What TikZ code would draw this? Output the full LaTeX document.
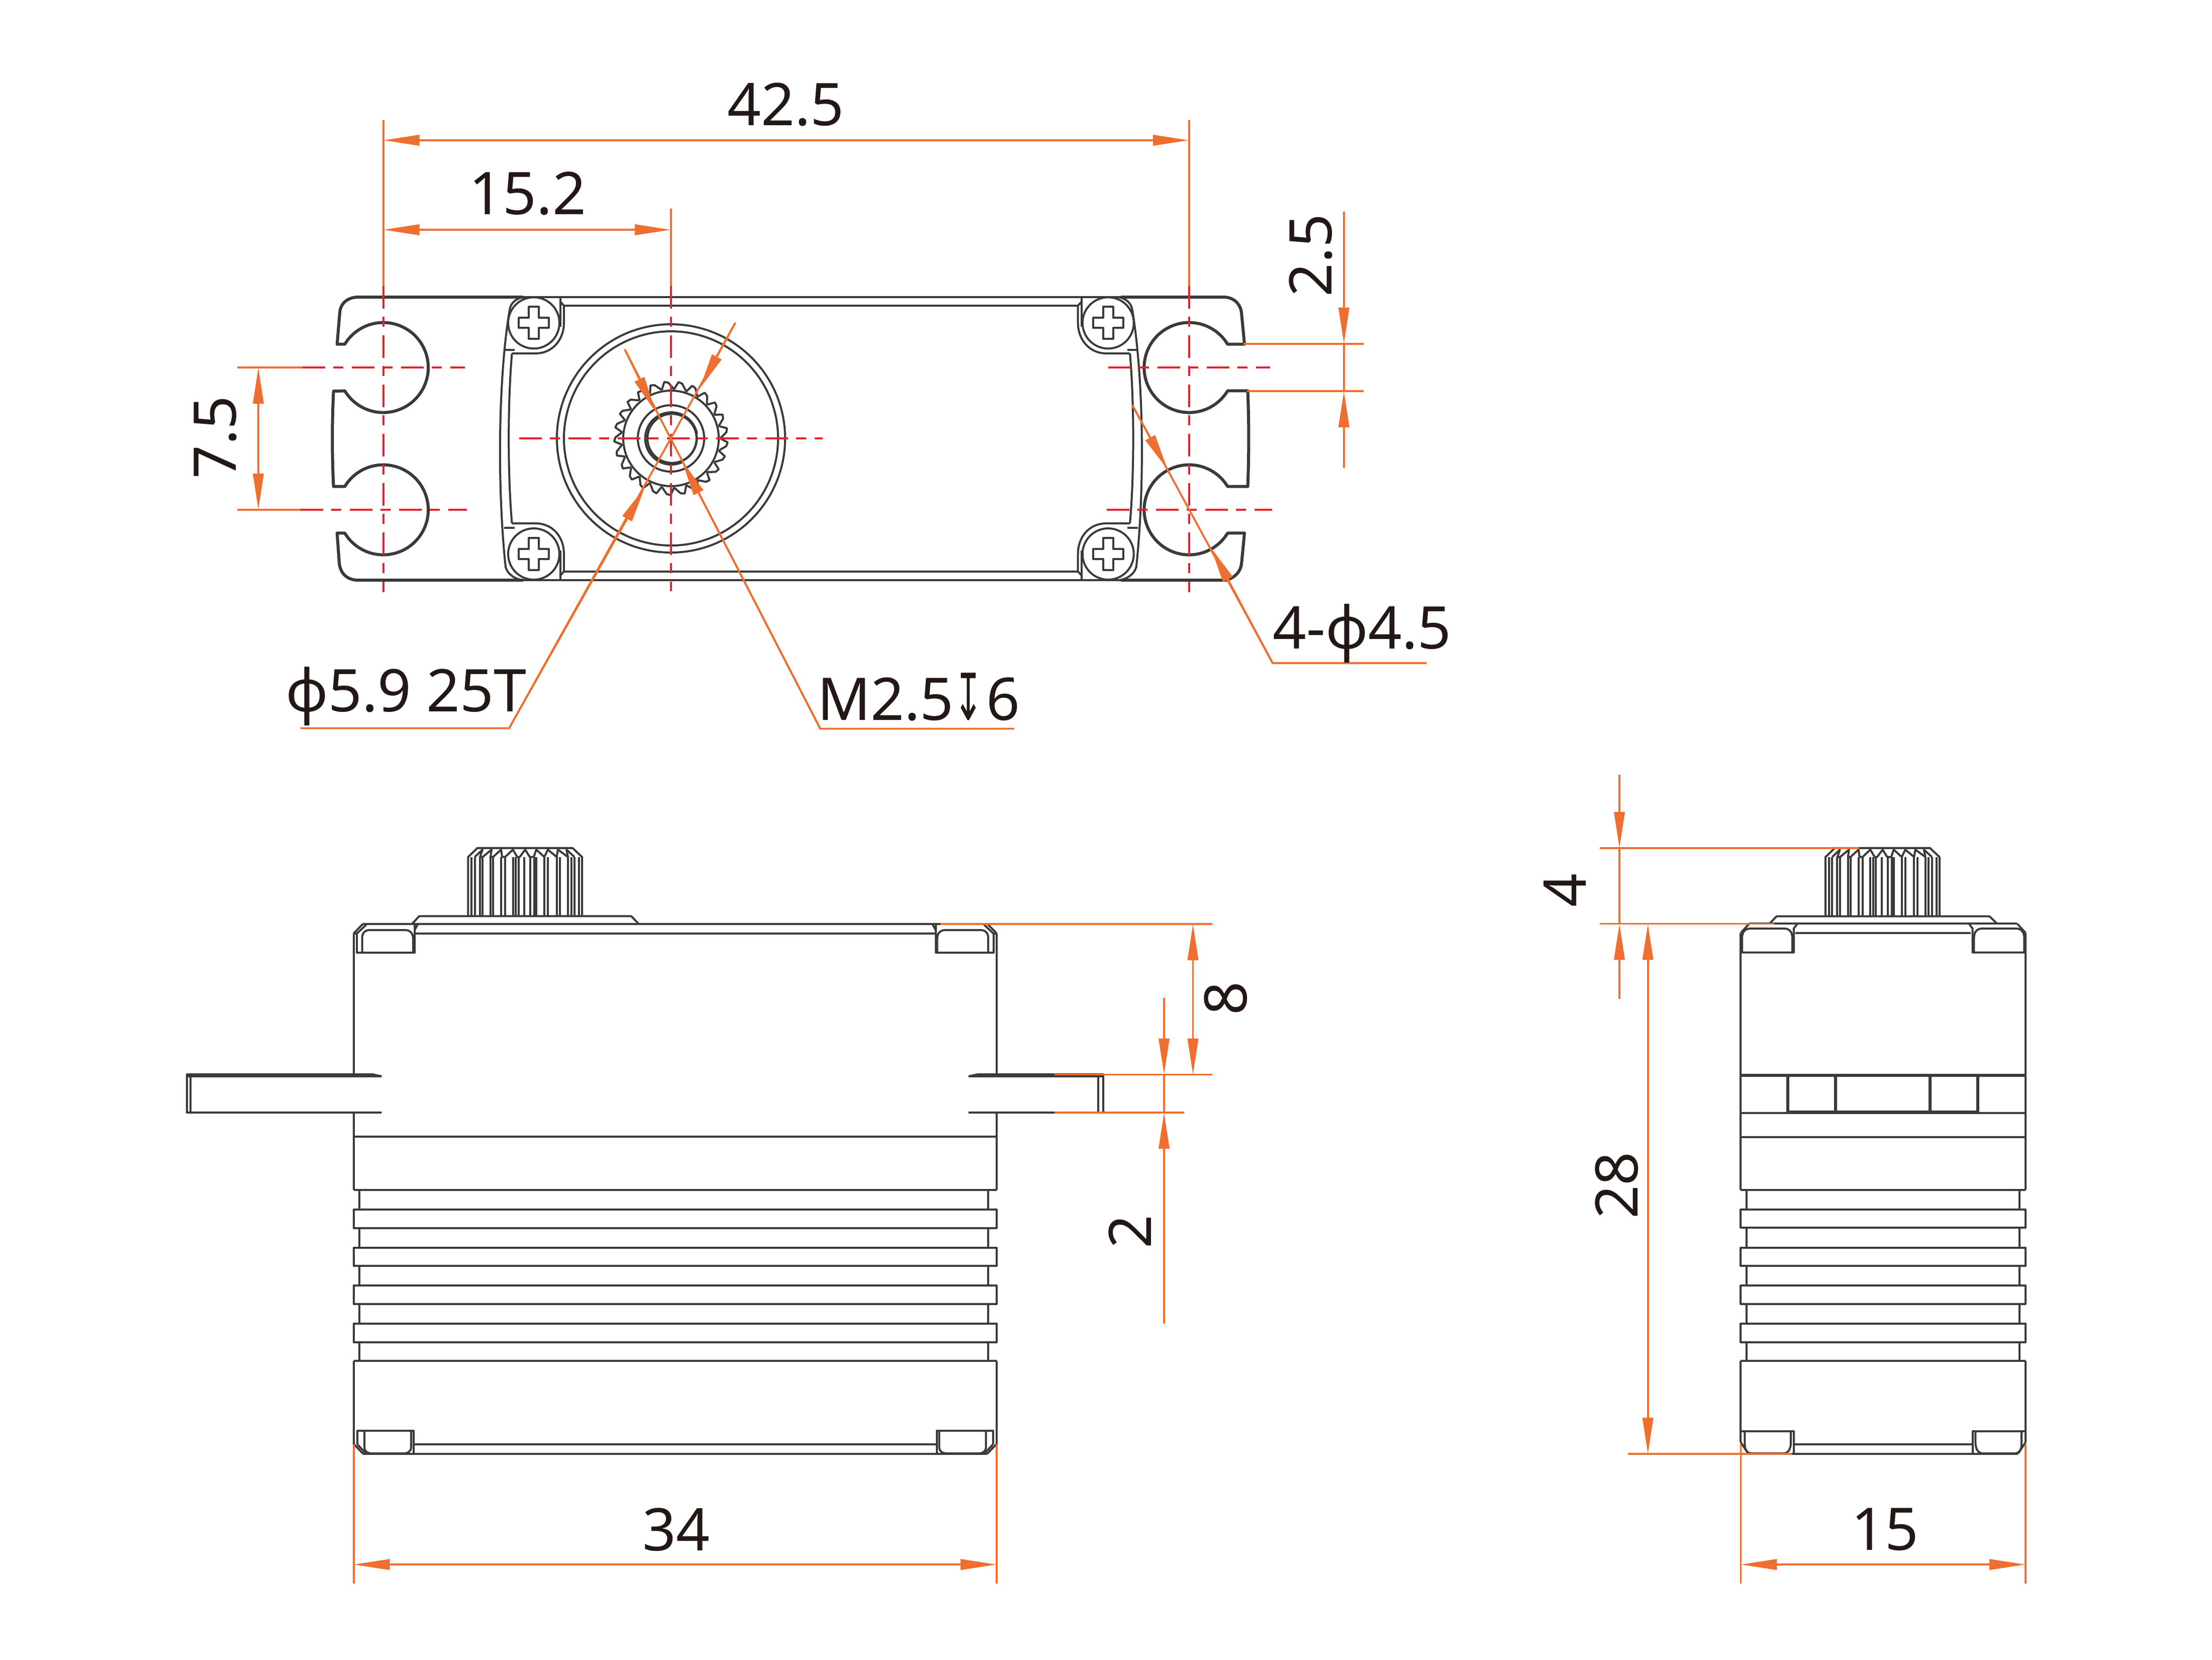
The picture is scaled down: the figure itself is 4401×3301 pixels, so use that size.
\documentclass[tikz,border=0pt]{standalone}
\usepackage{fontspec}
\setmainfont{Noto Sans}
\newfontfamily\symfont{DejaVu Sans}
\usetikzlibrary{arrows.meta}

\definecolor{partcol}{HTML}{3A3A3A}
\definecolor{dimcol}{HTML}{EE6F30}
\definecolor{axiscol}{HTML}{E6212A}
\definecolor{labelcol}{HTML}{231815}

\tikzset{
    dimtip/.tip={Triangle[length=7.2pt,width=2.1pt]},
    spline/.pic={
        \draw[part] (931.3,1822.4) -- (931.3,1704.6) -- (950,1686.7) -- (1139,1686.7) -- (1158,1704.6) -- (1158,1822.4);
        \foreach \x in {938,944.6,954.5,960.3,975.9,981,997,1005,1020.5,1026,1031.7,1043,1055,1063,1067,1083,1090,1107.6,1114,1130,1136.6,1143,1152}
            \draw[part] (\x,1704.6) -- (\x,1822.4);
        \draw[part] (944.6,1704.6) -- (960,1690) -- (955,1704.6) -- (960.3,1704.6) -- (978,1690) -- (976,1704.6) -- (981,1704.6) -- (997,1690) -- (999,1704.6) -- (1005,1704.6) -- (1020.5,1690) -- (1029,1704.6) -- (1034,1704.6) -- (1045,1690) -- (1054,1704.6) -- (1062,1704.6) -- (1067,1690) -- (1083,1704.6) -- (1090,1690) -- (1107.6,1704.6) -- (1110,1690) -- (1130,1704.6) -- (1127,1690) -- (1143,1704.6);
    },
    screw/.pic={
        \draw[part] (0,0) circle (51);
        \draw[part] (-30,-10) -- (-10,-10) -- (-10,-32) -- (10,-32) -- (10,-10) -- (30,-10) -- (30,10) -- (10,10) -- (10,32) -- (-10,32) -- (-10,10) -- (-30,10) -- cycle;
    },
    bracket/.pic={
        \draw[part] (1041,591) .. controls (1026,594) and (1016,603) .. (1014,616) .. controls (990,760) and (990,980) .. (1006,1128) .. controls (1010,1142) and (1024,1152) .. (1041,1154);
        \draw[part] (1018.6,703) .. controls (1010,800) and (1010,945) .. (1018.6,1041);
        \draw[part] (1002.5,696.4) -- (1024,696.4);
        \draw[part] (1002.5,1050) -- (1024,1050);
        \draw[part] (1018.6,703) -- (1065,703) .. controls (1100,703) and (1122,675) .. (1122,642) -- (1122,608) -- (1114.7,600);
        \draw[part] (1018.6,1041) -- (1065,1041) .. controls (1100,1041) and (1122,1068) .. (1122,1102) -- (1122,1136.7) -- (1114.7,1145);
        \draw[part] (1114.7,591) -- (1114.7,650);
        \draw[part] (1114.7,1095) -- (1114.7,1154);
        \pic at (1062,642.3) {screw};
        \pic at (1062,1102) {screw};
    },
    frontend/.pic={
        % cap
        \draw[part] (703.6,1856.6) -- (722,1837.8);
        \draw[part] (703.6,1856.6) -- (710,1857) -- (729,1839);
        \draw[part] (710,1857) -- (710,1895) -- (825,1895) -- (825,1838);
        \draw[part] (720.5,1895) -- (720.5,1866) .. controls (720.5,1856) and (726,1850) .. (735,1850) -- (806,1850) .. controls (816,1850) and (822,1857) .. (822,1867) -- (822,1895);
        \draw[part] (825,1850) -- (831,1839);
        % foot
        \draw[part] (711,2873) -- (711,2846) -- (823,2846) -- (823,2891.7);
        \draw[part] (704.6,2873) -- (722.4,2891.7);
        \draw[part] (711,2873) -- (727,2890);
        \draw[part] (725,2846) -- (725,2880) .. controls (725,2887) and (732,2891) .. (740,2891) -- (801.5,2891) .. controls (812,2891) and (818,2887) .. (818,2878) -- (818,2846);
    },
    sideend/.pic={
        % cap
        \draw[part] (3463.4,1855.6) -- (3480,1837.4);
        \draw[part] (3463.4,1894.6) -- (3568.8,1894.6) -- (3568.8,1847) -- (3576,1837.4);
        \draw[part] (3466,1894.6) -- (3466,1865.6) .. controls (3466,1854) and (3472,1847) .. (3482,1847) -- (3550,1847) .. controls (3560,1847) and (3566,1854) .. (3566,1865.6) -- (3566,1894.6);
        % foot
        \draw[part] (3463.4,2869) -- (3478,2891);
        \draw[part] (3463.4,2846.6) -- (3568.8,2846.6) -- (3568.8,2892);
        \draw[part] (3471.4,2846.6) -- (3471.4,2873) .. controls (3471.4,2884) and (3476,2891) .. (3486,2891) -- (3548,2891) .. controls (3558,2891) and (3563,2882) .. (3563,2869) -- (3563,2846.6);
    }
}

\begin{document}
\begin{tikzpicture}[
    x=0.1pt, y=-0.1pt,
    part/.style={draw=partcol, line width=0.4pt, line join=round},
    tab/.style={draw=partcol, line width=0.6pt, line join=round},
    dim/.style={draw=dimcol, line width=0.38pt},
    axis/.style={draw=axiscol, line width=0.42pt, dash pattern=on 4.5pt off 1.6pt on 2pt off 1.7pt},
    size/.style={text=labelcol, inner sep=0pt, font=\fontsize{11.7}{14}\selectfont}
]
    \useasboundingbox (0,0) rectangle (4401,3301);

    % Top view: mounting tabs
    \draw[tab] (1041,591) -- (712.7,591) .. controls (690,591) and (677,605) .. (676,622) -- (670.7,684.7) -- (686,684.7)
        arc[start angle=211.2, end angle=508.8, radius=89.5] -- (663.6,778) .. controls (660.5,840) and (660.5,905) .. (663.6,967.7) -- (686,967.7)
        arc[start angle=211.2, end angle=508.8, radius=89.5] -- (670.7,1060.3) -- (675,1120) .. controls (677,1140) and (690,1154) .. (712.7,1154) -- (1041,1154);
    \draw[tab] (2230,591) -- (2434.7,591) .. controls (2455,591) and (2468,605) .. (2470,622) -- (2476,684.7) -- (2442.4,684.7)
        arc[start angle=-31.2, end angle=-328.8, radius=89.5] -- (2482.5,777.3) .. controls (2485,840) and (2485,905) .. (2482.5,967.7) -- (2442.4,967.7)
        arc[start angle=-31.2, end angle=-328.8, radius=89.5] -- (2476,1060.3) -- (2470,1122) .. controls (2467,1140) and (2455,1150) .. (2438,1154) -- (2230,1154);

    % Top view: case and screws
    \draw[part] (1041,591) -- (2230,591);
    \draw[part] (1041,1154) -- (2230,1154);
    \draw[part] (1122,608) -- (2144.7,608);
    \draw[part] (1122,1136.7) -- (2144.7,1136.7);
    \pic at (0,0) {bracket};
    \pic[xscale=-1] at (3266.7,0) {bracket};

    % Top view: output shaft
    \draw[part] (1335,872) circle (227);
    \draw[part] (1335,872) circle (213);
    \draw[part] (1335,872) circle (95);
    \draw[part] (1335,872) circle (66);
    \draw[part, line width=0.45pt] (1337,872) circle (49);
    \draw[part] (1360,918) arc[start angle=62, end angle=350, radius=52];
    \foreach \a in {0,14.4,...,345.6}
        \draw[part] ([shift={(1335,872)}]\a:98) -- ([shift={(1335,872)}]\a+4:113) -- ([shift={(1335,872)}]\a+8:111) -- ([shift={(1335,872)}]\a+14.4:98);

    % Centre lines
    \draw[axis] (762.6,569) -- (762.6,1178);
    \draw[axis] (2365.8,569) -- (2365.8,1178);
    \draw[axis] (1335,569) -- (1335,1176);
    \draw[axis] (602,731) -- (925,731);
    \draw[axis] (598,1014) -- (929,1014);
    \draw[axis] (2205,731) -- (2527,731);
    \draw[axis] (2202,1014) -- (2531,1014);
    \draw[axis] (1032.6,872) -- (1637,872);

    % Front view
    \pic at (0,0) {spline};
    \pic at (0,0) {frontend};
    \pic[xscale=-1] at (2686.6,0) {frontend};
    \draw[part] (819.6,1838) -- (834,1822.4) -- (1256,1822.4) -- (1271,1838);
    \draw[part] (722,1837.8) -- (1964.6,1837.8);
    \draw[part] (825,1856.6) -- (1861.6,1856.6);
    \draw[part] (703.6,1856.6) -- (703.6,2137);
    \draw[part] (703.6,2213) -- (703.6,2366.8);
    \draw[part] (703.6,2707) -- (703.6,2873);
    \draw[part] (1983,1856.6) -- (1983,2137);
    \draw[part] (1983,2213) -- (1983,2366.8);
    \draw[part] (1983,2707) -- (1983,2873);
    \draw[part] (714.7,2366.8) -- (714.7,2707);
    \draw[part] (1966,2366.8) -- (1966,2707);
    \foreach \y in {2260.7,2366.8,2707}
        \draw[part] (703.6,\y) -- (1983,\y);
    \foreach \y/\z in {2406/2443,2481.7/2518,2557/2593.6,2632.6/2670}
        \draw[part, fill=white] (703.6,\y) rectangle (1983,\z);
    \draw[part] (722.4,2891.7) -- (1964.2,2891.7);
    \draw[part] (823,2873.3) -- (1863.6,2873.3);

    % Front view: flanges
    \draw[part] (759.4,2141) -- (372,2141);
    \draw[part] (759.4,2141) -- (741.5,2137) -- (372,2137) -- (372,2213) -- (759.4,2213);
    \draw[part] (379,2137) -- (379,2213);
    \draw[part] (1927,2141) -- (2195,2141);
    \draw[part] (1927,2141) -- (1945,2137) -- (2195,2137) -- (2195,2213) -- (1927,2213);
    \draw[part] (2184.7,2137) -- (2184.7,2213);

    % Side view
    \pic at (2700.7,0) {spline};
    \pic at (0,0) {sideend};
    \pic[xscale=-1] at (7493.4,0) {sideend};
    \draw[part] (3520.5,1837.4) -- (3534.8,1822.5) -- (3958,1822.5) -- (3973.7,1837.4);
    \draw[part] (3480,1837.4) -- (4013.4,1837.4);
    \draw[part] (3572,1855.6) -- (3921.4,1855.6);
    \draw[part] (3463.4,1855.6) -- (3463.4,2367);
    \draw[part] (3463.4,2707) -- (3463.4,2869);
    \draw[part] (4030,1855.6) -- (4030,2367);
    \draw[part] (4030,2707) -- (4030,2869);
    \draw[part] (3475,2367) -- (3475,2707);
    \draw[part] (4018,2367) -- (4018,2707);
    \draw[part, line width=0.55pt] (3463.4,2139) -- (4030,2139);
    \draw[part, line width=0.55pt] (3557,2139) -- (3557,2212) -- (3935,2212) -- (3935,2139);
    \draw[part, line width=0.55pt] (3652,2139) -- (3652,2212);
    \draw[part, line width=0.55pt] (3840,2139) -- (3840,2212);
    \foreach \y in {2214,2262,2367,2707}
        \draw[part] (3463.4,\y) -- (4030,\y);
    \foreach \y/\z in {2406/2442,2481.7/2518,2557/2593.6,2632.6/2670}
        \draw[part, fill=white] (3463.4,\y) rectangle (4030,\z);
    \draw[part] (3478,2892) -- (4015.4,2892);
    \draw[part] (3568.8,2873) -- (3924.6,2873);

    % Extension lines
    \coordinate (holeL) at (762.6,279);
    \coordinate (holeR) at (2365.8,279);
    \coordinate (hub) at (1335,457);
    \coordinate (hubL) at (762.6,457);
    \draw[dim] (762.6,238.6) -- (762.6,569);
    \draw[dim] (2365.8,238.6) -- (2365.8,569);
    \draw[dim] (1335,415) -- (1335,569);
    \draw[dim] (472,731) -- (602,731);
    \draw[dim] (472,1014) -- (598,1014);
    \draw[dim] (2474,683.7) -- (2713,683.7);
    \draw[dim] (2480.6,778) -- (2713,778);
    \draw[dim] (1871,1838) -- (2411.7,1838);
    \draw[dim] (2098,2137.5) -- (2411.7,2137.5);
    \draw[dim] (2098,2213) -- (2355.6,2213);
    \draw[dim] (703.6,2873) -- (703.6,3150);
    \draw[dim] (1983,2873) -- (1983,3150);
    \draw[dim] (3463.4,2873) -- (3463.4,3150);
    \draw[dim] (4030,2873) -- (4030,3150);
    \draw[dim] (3183,1687) -- (3699,1687);
    \draw[dim] (3183,1837.4) -- (3529.5,1837.4);
    \draw[dim] (3239,2892) -- (3565,2892);

    % Dimensions
    \draw[dim, {dimtip}-{dimtip}] (holeL) -- (holeR);
    \draw[dim, {dimtip}-{dimtip}] (hubL) -- (hub);
    \draw[dim, {dimtip}-{dimtip}] (514,731) -- (514,1014);
    \draw[dim, -{dimtip}] (2673.8,421) -- (2673.8,683.7);
    \draw[dim, -{dimtip}] (2673.8,931) -- (2673.8,778);
    \draw[dim] (2673.8,683.7) -- (2673.8,778);
    \draw[dim, {dimtip}-{dimtip}] (2373.5,1838) -- (2373.5,2137.5);
    \draw[dim, -{dimtip}] (2316,1985) -- (2316,2137.5);
    \draw[dim, -{dimtip}] (2316,2633) -- (2316,2213);
    \draw[dim] (2316,2137.5) -- (2316,2213);
    \draw[dim, {dimtip}-{dimtip}] (703.6,3112) -- (1983,3112);
    \draw[dim, {dimtip}-{dimtip}] (3463.4,3112) -- (4030,3112);
    \draw[dim, -{dimtip}] (3222,1541) -- (3222,1687);
    \draw[dim, -{dimtip}] (3222,1987) -- (3222,1837.4);
    \draw[dim] (3222,1687) -- (3222,1837.4);
    \draw[dim, {dimtip}-{dimtip}] (3278.6,1837.4) -- (3278.6,2892);

    % Leaders
    \coordinate (splineEnd) at (1463,642);
    \coordinate (threadEnd) at (1243,695);
    \coordinate (holeEnd) at (2253,806);
    \draw[dim] (598,1448.4) -- (1013,1448.4) -- (splineEnd);
    \draw[dim, -{dimtip}] (splineEnd) -- (1392,773);
    \draw[dim, -{dimtip}] (1013,1448.4) -- (1283,969);
    \draw[dim] (2018,1449.5) -- (1632,1449.5) -- (threadEnd);
    \draw[dim, -{dimtip}] (threadEnd) -- (1304,819);
    \draw[dim, -{dimtip}] (1632,1449.5) -- (1356.7,916);
    \draw[dim] (2838,1319) -- (2532,1319) -- (holeEnd);
    \draw[dim, -{dimtip}] (holeEnd) -- (2323,933.7);
    \draw[dim, -{dimtip}] (2532,1319) -- (2409,1089);

    % Labels
    \node[size] (overall) at (1563.5,208) {42.5};
    \node[size] (offset) at (1050,385) {15.2};
    \node[size, rotate=90] (slot) at (2608,508) {2.5};
    \node[size, rotate=90] (pitch) at (429,870) {7.5};
    \node[size] (splinelabel) at (808,1385) {ϕ5.9 25T};
    \node[size] (threadlabel) at (1828,1386) {M2.5\scalebox{0.6}[1.1]{\symfont↧}\kern0.6pt 6};
    \node[size] (holelabel) at (2710,1260) {4-ϕ4.5};
    \node[size, rotate=90] (earheight) at (2439,1986) {8};
    \node[size, rotate=90] (earthick) at (2248,2450) {2};
    \node[size] (length) at (1345,3043) {34};
    \node[size] (width) at (3750,3042) {15};
    \node[size, rotate=90] (shaftheight) at (3113,1771) {4};
    \node[size, rotate=90] (height) at (3217,2358) {28};
\end{tikzpicture}
\end{document}
